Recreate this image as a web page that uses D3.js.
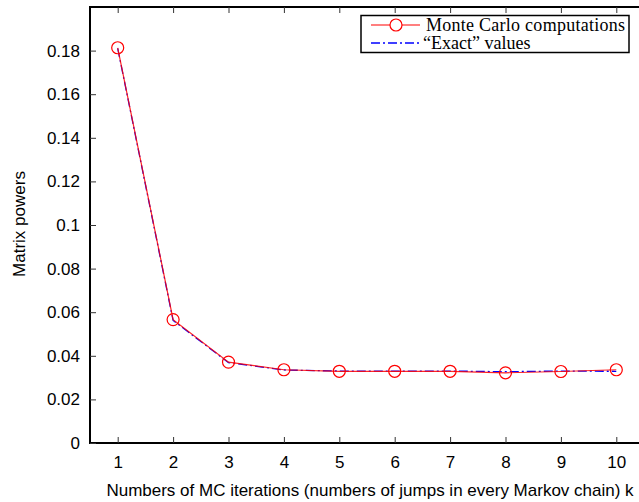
<!DOCTYPE html>
<html>
<head>
<meta charset="utf-8">
<script src="https://cdn.jsdelivr.net/npm/d3@7"></script>
<style>
  body { margin: 0; background: #fff; }
  svg { display: block; }
</style>
</head>
<body>
<svg id="chart"></svg>
<script>
// Data
const iterations = [1, 2, 3, 4, 5, 6, 7, 8, 9, 10];
const monteCarlo = [0.1813, 0.0566, 0.0371, 0.0336, 0.0329, 0.0329, 0.0329, 0.0322, 0.0328, 0.0336];
const exactValues = [0.1810, 0.0562, 0.0369, 0.0335, 0.0330, 0.0330, 0.0330, 0.0327, 0.0330, 0.0329];
const yTicks = [0, 0.02, 0.04, 0.06, 0.08, 0.1, 0.12, 0.14, 0.16, 0.18];

const width = 639, height = 502;
const margin = { top: 7, left: 90, bottom: 59 };

const svg = d3.select("#chart").attr("width", width).attr("height", height);

// x: 0.5..10.5, right edge falls outside the window (cropped like the original)
const xScale = d3.scaleLinear().domain([0.5, 10.5]).range([margin.left, 644]);
const yScale = d3.scaleLinear().domain([0, 0.2]).range([height - margin.bottom, margin.top]);

const tickLen = 6;
const sansFont = "'Liberation Sans', Arial, sans-serif";
const fontSize = "17px";

// Frame
svg.append("rect")
  .attr("x", xScale(0.5))
  .attr("y", yScale(0.2))
  .attr("width", xScale(10.5) - xScale(0.5))
  .attr("height", yScale(0) - yScale(0.2))
  .attr("fill", "none")
  .attr("stroke", "#000")
  .attr("stroke-width", 2);

// Bottom axis (ticks inward)
const xAxis = d3.axisBottom(xScale).tickValues(iterations).tickSize(-tickLen).tickPadding(13).tickFormat(d3.format("d"));
const gx = svg.append("g").attr("transform", `translate(0,${yScale(0)})`).call(xAxis);
gx.select(".domain").remove();
gx.selectAll("text").style("font-family", sansFont).style("font-size", fontSize).attr("fill", "#000");
gx.selectAll("line").attr("stroke", "#333");

// Top ticks
const gxTop = svg.append("g").attr("transform", `translate(0,${yScale(0.2)})`)
  .call(d3.axisTop(xScale).tickValues(iterations).tickSize(-tickLen).tickFormat(""));
gxTop.select(".domain").remove();
gxTop.selectAll("line").attr("stroke", "#333");

// Left axis
const yAxis = d3.axisLeft(yScale).tickValues(yTicks).tickSize(-tickLen).tickPadding(10)
  .tickFormat(d => d === 0 ? "0" : d3.format("")(+d.toFixed(2)));
const gy = svg.append("g").attr("transform", `translate(${xScale(0.5)},0)`).call(yAxis);
gy.select(".domain").remove();
gy.selectAll("text").style("font-family", sansFont).style("font-size", fontSize).attr("fill", "#000");
gy.selectAll("line").attr("stroke", "#333");

// Lines
const lineMC = d3.line().x((d, i) => xScale(iterations[i])).y(d => yScale(d));

svg.append("path")
  .datum(exactValues)
  .attr("d", lineMC)
  .attr("fill", "none")
  .attr("stroke", "#0000ff")
  .attr("stroke-width", 1.3)
  .attr("stroke-dasharray", "9,3,2,3");

svg.append("path")
  .datum(monteCarlo)
  .attr("d", lineMC)
  .attr("fill", "none")
  .attr("stroke", "#ff0000")
  .attr("stroke-opacity", 0.85)
  .attr("stroke-width", 1.2);

svg.selectAll("circle.mc")
  .data(monteCarlo)
  .enter()
  .append("circle")
  .attr("class", "mc")
  .attr("cx", (d, i) => xScale(iterations[i]))
  .attr("cy", d => yScale(d))
  .attr("r", 6)
  .attr("fill", "none")
  .attr("stroke", "#ff0000")
  .attr("stroke-width", 1.2);

// Axis labels
svg.append("text")
  .attr("x", 370)
  .attr("y", 496)
  .attr("text-anchor", "middle")
  .style("font-family", sansFont)
  .style("font-size", fontSize)
  .text("Numbers of MC iterations (numbers of jumps in every Markov chain) k");

svg.append("text")
  .attr("transform", "rotate(-90)")
  .attr("x", -224)
  .attr("y", 25)
  .attr("text-anchor", "middle")
  .style("font-family", sansFont)
  .style("font-size", fontSize)
  .text("Matrix powers");

// Legend
const legend = svg.append("g");
legend.append("rect")
  .attr("x", 361).attr("y", 15.5)
  .attr("width", 268).attr("height", 37)
  .attr("fill", "#fff")
  .attr("stroke", "#000")
  .attr("stroke-width", 1.5);

legend.append("line")
  .attr("x1", 371).attr("x2", 420).attr("y1", 25).attr("y2", 25)
  .attr("stroke", "#ff0000").attr("stroke-width", 1.2);
legend.append("circle")
  .attr("cx", 396).attr("cy", 25).attr("r", 6)
  .attr("fill", "#fff").attr("stroke", "#ff0000").attr("stroke-width", 1.2);
legend.append("line")
  .attr("x1", 371).attr("x2", 420).attr("y1", 43).attr("y2", 43)
  .attr("stroke", "#0000ff").attr("stroke-width", 1.3)
  .attr("stroke-dasharray", "9,3,2,3");

const serifFont = "'Liberation Serif', 'DejaVu Serif', serif";
legend.append("text")
  .attr("x", 426).attr("y", 31)
  .attr("textLength", 199)
  .style("font-family", serifFont).style("font-size", "18px")
  .text("Monte Carlo computations");
legend.append("text")
  .attr("x", 423).attr("y", 49)
  .style("font-family", serifFont).style("font-size", "18px")
  .text("\u201CExact\u201D values");
</script>
</body>
</html>
